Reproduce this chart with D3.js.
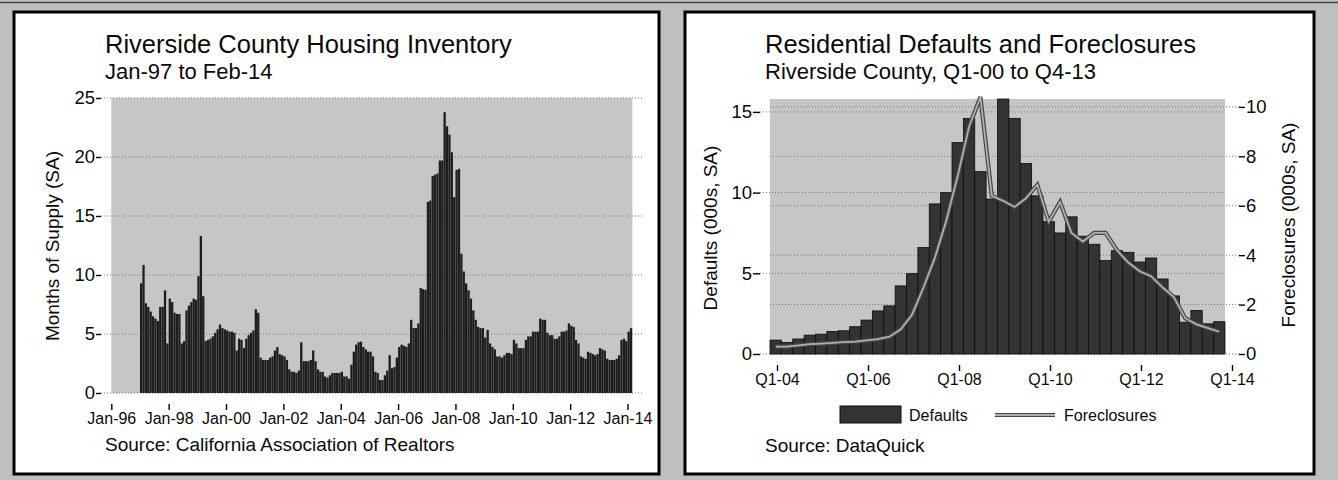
<!DOCTYPE html>
<html><head><meta charset="utf-8">
<script src="https://cdn.jsdelivr.net/npm/d3@7"></script>
<style>
body{margin:0;background:#bfbfbf}
svg{display:block}
text{font-family:"Liberation Sans",Arial,Helvetica,sans-serif;fill:#0a0a0a}
</style>
</head><body>
<svg id="c" width="1338" height="480"></svg>
<script>
// ---------- Left chart data: months of supply, Jan-97 .. Feb-14 ----------
const invFirstMonth = "1997-01";
const invValues = [
  9.3,10.85,7.6,7.3,6.9,6.5,6.3,6.1,7.3,7.3,8.7,4.2,      // 1997
  8.0,7.7,6.8,6.7,6.7,4.2,4.4,7.0,7.4,7.7,8.0,7.9,        // 1998
  9.9,13.3,8.2,4.4,4.5,4.6,4.8,5.1,5.4,5.8,5.5,5.4,       // 1999
  5.3,5.2,5.2,5.1,3.6,4.6,4.5,3.8,4.6,4.9,5.1,5.3,        // 2000
  7.1,6.8,3.0,2.8,2.8,2.8,3.0,3.1,3.6,3.9,3.3,3.2,        // 2001
  3.1,2.8,2.0,1.8,1.8,1.7,1.9,4.3,2.7,2.7,2.7,2.8,        // 2002
  3.6,2.7,2.0,1.8,1.8,1.4,1.3,1.5,1.7,1.7,1.7,1.7,        // 2003
  1.8,1.4,1.4,1.2,2.4,3.5,4.1,4.3,4.35,3.9,3.7,3.5,       // 2004
  3.5,3.1,1.8,1.7,1.1,1.1,1.5,1.9,3.2,2.1,2.2,3.0,        // 2005
  3.9,4.1,4.0,3.9,4.2,6.2,5.5,5.5,5.9,8.9,8.8,8.75,       // 2006
  16.2,16.3,18.4,18.5,18.6,19.7,19.7,23.8,22.6,21.9,20.4,16.6, // 2007
  18.9,19.0,11.8,10.3,9.3,8.7,8.0,7.0,6.2,5.6,5.5,5.5,    // 2008
  4.7,5.35,4.2,3.9,3.7,3.1,3.1,3.0,3.2,3.4,3.4,3.3,       // 2009
  4.5,4.2,3.8,3.8,3.8,4.5,4.8,4.8,5.2,5.2,5.2,6.3,        // 2010
  6.2,6.2,5.1,4.9,4.9,4.6,4.6,4.8,5.2,5.2,5.3,5.9,        // 2011
  5.7,5.6,4.5,4.2,3.1,3.0,2.9,3.5,3.4,3.3,3.2,3.3,        // 2012
  3.8,3.7,3.6,2.9,2.8,2.8,2.8,2.9,3.2,4.5,4.6,4.4,        // 2013
  5.2,5.5                                                  // 2014
];
const invTickLabels = ["Jan-96","Jan-98","Jan-00","Jan-02","Jan-04","Jan-06","Jan-08","Jan-10","Jan-12","Jan-14"];
const invYTicks = [0,5,10,15,20,25];

// ---------- Right chart data: quarterly, Q1-04 .. Q4-13 ----------
const qCategories = [];
for (let y = 4; y <= 13; y++) for (let q = 1; q <= 4; q++) qCategories.push("Q" + q + "-" + String(y).padStart(2,"0"));
const defaults = [
  0.86,0.72,0.93,1.17,1.23,1.4,1.44,1.69,2.1,2.67,
  2.98,4.22,4.98,6.6,9.3,10.0,13.1,14.6,11.3,9.6,
  15.8,14.6,11.8,9.8,8.2,7.5,8.5,7.3,6.8,5.8,
  6.4,6.3,5.7,5.95,4.65,3.6,1.97,2.7,1.87,2.0
];
const foreclosures = [
  0.3,0.3,0.35,0.4,0.42,0.45,0.48,0.5,0.55,0.6,
  0.7,1.0,1.6,2.7,3.9,5.4,7.2,9.2,10.4,6.4,
  6.2,5.95,6.3,6.85,5.35,6.15,4.9,4.55,4.9,4.9,
  4.2,3.7,3.35,3.15,2.7,2.3,1.45,1.2,1.05,0.9
];
const qTickLabels = ["Q1-04","Q1-06","Q1-08","Q1-10","Q1-12","Q1-14"];
const defYTicks = [0,5,10,15];
const forYTicks = [0,2,4,6,8,10];

const svg = d3.select("#c");
svg.append("rect").attr("width",1338).attr("height",480).attr("fill","#bfbfbf");
svg.append("line").attr("x1",0).attr("x2",1338).attr("y1",2.5).attr("y2",2.5).attr("stroke","#444").attr("stroke-width",1.5);

// panels
svg.append("rect").attr("x",14).attr("y",12).attr("width",645).attr("height",462)
  .attr("fill","#fff").attr("stroke","#000").attr("stroke-width",3);
svg.append("rect").attr("x",685).attr("y",12).attr("width",629).attr("height",462)
  .attr("fill","#fff").attr("stroke","#000").attr("stroke-width",3);

function styleAxis(g, fs){
  g.select(".domain").remove();
  g.selectAll(".tick line").attr("stroke","#000").attr("stroke-width",1.4);
  g.selectAll(".tick text").attr("font-size",fs).attr("fill","#0a0a0a")
    .attr("font-family",'"Liberation Sans",Arial,sans-serif');
}

// ================= LEFT CHART =================
const L = svg.append("g");
const xL = d3.scaleLinear().domain([0, 218]).range([111.3, 632.3]); // months since Jan-96
const yL = d3.scaleLinear().domain([0, 25]).range([393, 98]);

L.append("text").attr("x",105).attr("y",53).attr("font-size",25.5).text("Riverside County Housing Inventory");
L.append("text").attr("x",105).attr("y",79).attr("font-size",22).text("Jan-97 to Feb-14");

L.append("rect").attr("x",xL(0)).attr("y",yL(25)).attr("width",xL(218)-xL(0)).attr("height",yL(0)-yL(25)).attr("fill","#c6c6c6");
L.append("g").selectAll("line").data(invYTicks).join("line")
  .attr("x1",101).attr("x2",643).attr("y1",d=>yL(d)).attr("y2",d=>yL(d))
  .attr("stroke","#777").attr("stroke-width",1).attr("stroke-dasharray","1,2");

const mw = xL(1)-xL(0);
L.append("g").selectAll("rect").data(invValues).join("rect")
  .attr("x",(d,i)=>xL(12+i)).attr("width",mw-0.1)
  .attr("y",d=>yL(d)).attr("height",d=>yL(0)-yL(d))
  .attr("fill","#1e1e1e");

const yAxL = L.append("g").attr("transform","translate(101,0)")
  .call(d3.axisLeft(yL).tickValues(invYTicks).tickSize(5).tickPadding(1));
styleAxis(yAxL, 18.5);
const xAxL = L.append("g").attr("transform","translate(0,404)")
  .call(d3.axisBottom(xL).tickValues(d3.range(0,217,24)).tickFormat((d,i)=>invTickLabels[i]).tickSize(6).tickPadding(3));
styleAxis(xAxL, 16);

L.append("text").attr("transform","translate(59,246) rotate(-90)").attr("text-anchor","middle")
  .attr("font-size",19).text("Months of Supply (SA)");
L.append("text").attr("x",105).attr("y",451).attr("font-size",19).text("Source: California Association of Realtors");

// ================= RIGHT CHART =================
const R = svg.append("g");
const xR = d3.scaleBand().domain(qCategories).range([770, 1225]).padding(0);
const xT = d3.scaleLinear().domain([0, 40]).range([777, 1232]);
const yD = d3.scaleLinear().domain([0, 15.8]).range([354, 99]);
const yF = d3.scaleLinear().domain([0, 10.32]).range([354, 99]);

R.append("text").attr("x",765).attr("y",53).attr("font-size",25.5).text("Residential Defaults and Foreclosures");
R.append("text").attr("x",765).attr("y",79).attr("font-size",22).text("Riverside County, Q1-00 to Q4-13");

R.append("rect").attr("x",770).attr("y",yD(15.8)).attr("width",xR.range()[1]-xR.range()[0]).attr("height",yD(0)-yD(15.8)).attr("fill","#c6c6c6");
R.append("g").selectAll("line").data(defYTicks).join("line")
  .attr("x1",760).attr("x2",1225).attr("y1",d=>yD(d)).attr("y2",d=>yD(d))
  .attr("stroke","#777").attr("stroke-dasharray","1,2");
R.append("g").selectAll("line").data(forYTicks).join("line")
  .attr("x1",770).attr("x2",1239).attr("y1",d=>yF(d)).attr("y2",d=>yF(d))
  .attr("stroke","#777").attr("stroke-dasharray","1,2");

R.append("g").selectAll("rect").data(defaults).join("rect")
  .attr("x",(d,i)=>xR(qCategories[i])).attr("width",xR.bandwidth())
  .attr("y",d=>yD(d)).attr("height",d=>yD(0)-yD(d))
  .attr("fill","#333").attr("stroke","#0d0d0d").attr("stroke-width",0.8);

const line = d3.line().x((d,i)=>xR(qCategories[i])+xR.bandwidth()/2).y(d=>yF(d));
R.append("path").datum(foreclosures).attr("d",line).attr("fill","none").attr("stroke","#474747").attr("stroke-width",4.2).attr("stroke-linejoin","miter");
R.append("path").datum(foreclosures).attr("d",line).attr("fill","none").attr("stroke","#b0b0b0").attr("stroke-width",1.8).attr("stroke-linejoin","miter");

const yAxD = R.append("g").attr("transform","translate(760,0)")
  .call(d3.axisLeft(yD).tickValues(defYTicks).tickSize(7).tickPadding(1));
styleAxis(yAxD, 18.5);
const yAxF = R.append("g").attr("transform","translate(1239,0)")
  .call(d3.axisRight(yF).tickValues(forYTicks).tickSize(6).tickPadding(1));
styleAxis(yAxF, 18.5);
const xAxR = R.append("g").attr("transform","translate(0,365)")
  .call(d3.axisBottom(xT).tickValues(d3.range(0,41,8)).tickFormat((d,i)=>qTickLabels[i]).tickSize(6).tickPadding(3));
styleAxis(xAxR, 16);

R.append("text").attr("transform","translate(717,228) rotate(-90)").attr("text-anchor","middle")
  .attr("font-size",19).text("Defaults (000s, SA)");
R.append("text").attr("transform","translate(1295,225) rotate(-90)").attr("text-anchor","middle")
  .attr("font-size",19).text("Foreclosures (000s, SA)");

// legend
R.append("rect").attr("x",840).attr("y",406).attr("width",61).attr("height",17).attr("fill","#333").attr("stroke","#0d0d0d");
R.append("text").attr("x",909).attr("y",421).attr("font-size",16).text("Defaults");
R.append("line").attr("x1",995).attr("x2",1055).attr("y1",415).attr("y2",415).attr("stroke","#474747").attr("stroke-width",4.2);
R.append("line").attr("x1",995).attr("x2",1055).attr("y1",415).attr("y2",415).attr("stroke","#b0b0b0").attr("stroke-width",1.8);
R.append("text").attr("x",1064).attr("y",421).attr("font-size",16).text("Foreclosures");

R.append("text").attr("x",765).attr("y",452).attr("font-size",19).text("Source: DataQuick");
</script>
</body></html>
